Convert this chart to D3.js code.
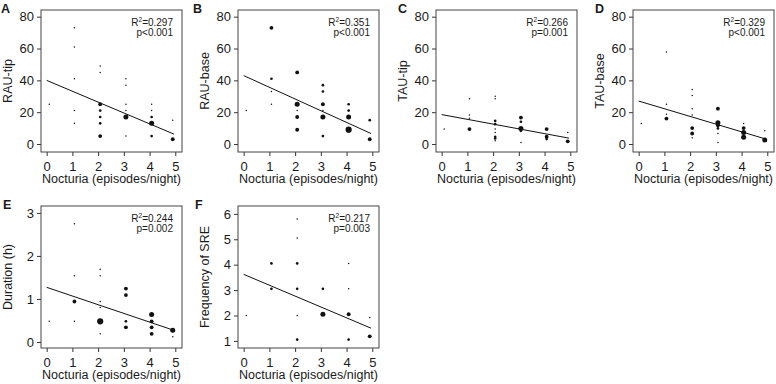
<!DOCTYPE html>
<html>
<head>
<meta charset="utf-8">
<script src="https://cdn.jsdelivr.net/npm/d3@7"></script>
<style>
  body { margin: 0; background: #fff; }
  svg { display: block; }
  text { font-family: "Liberation Sans", Arial, Helvetica, sans-serif; fill: #1a1a1a; }
  .tick line { stroke: #333; }
</style>
</head>
<body>
<script>
// panel labels and texts
var panelLetters = ["A", "B", "C", "D", "E", "F"];
var yTitles = ["RAU-tip", "RAU-base", "TAU-tip", "TAU-base", "Duration (h)", "Frequency of SRE"];
var r2Values = ["0.297", "0.351", "0.266", "0.329", "0.244", "0.217"];
var pValues = ["p<0.001", "p<0.001", "p=0.001", "p<0.001", "p=0.002", "p=0.003"];
var xTitle = "Nocturia (episodes/night)";

// ticks
var xTicks = [0, 1, 2, 3, 4, 5];
var yTicksPct = [0, 20, 40, 60, 80];
var yTicksDuration = [0, 1, 2, 3];
var yTicksFreq = [1, 2, 3, 4, 5, 6];

// points: [nocturia, value, count]
var rauTip = [
  [0.1, 25, 1],
  [1.08, 73, 1], [1.08, 61, 1], [1.08, 41, 1], [1.08, 21, 1], [1.08, 13, 1],
  [2.08, 49, 1], [2.08, 45, 1], [2.08, 25, 3], [2.08, 21, 2], [2.08, 17, 2], [2.08, 13, 2], [2.08, 5, 3],
  [3.08, 41, 1], [3.08, 37, 1], [3.08, 25, 1], [3.08, 21, 1], [3.08, 17, 4], [3.08, 5, 1],
  [4.08, 25, 1], [4.08, 21, 1], [4.08, 17, 2], [4.08, 13, 4], [4.08, 5, 2],
  [4.9, 15, 1], [4.9, 3, 3]
];
var rauBase = [
  [0.1, 21, 1],
  [1.08, 73, 3], [1.08, 41, 2], [1.08, 33, 1], [1.08, 25, 1],
  [2.08, 45, 3], [2.08, 25, 4], [2.08, 21, 1], [2.08, 17, 3], [2.08, 9, 3],
  [3.08, 37, 2], [3.08, 33, 2], [3.08, 25, 3], [3.08, 21, 1], [3.08, 17, 4], [3.08, 5, 2],
  [4.08, 25, 2], [4.08, 21, 2], [4.08, 17, 4], [4.08, 9, 5],
  [4.9, 15, 2], [4.9, 3, 3]
];
var tauTip = [
  [0.1, 9.4, 1],
  [1.08, 28.5, 1], [1.08, 18.3, 1], [1.08, 16.2, 1], [1.08, 9.4, 3],
  [2.08, 30, 1], [2.08, 28.5, 1], [2.08, 14.5, 2], [2.08, 12.5, 2], [2.08, 9.4, 1], [2.08, 7.3, 1],
  [2.08, 4.6, 2], [2.08, 3.5, 2], [2.08, 2, 1],
  [3.08, 16.6, 3], [3.08, 14, 2], [3.08, 9.8, 4], [3.08, 8.3, 2], [3.08, 1, 1],
  [4.08, 9.4, 3], [4.08, 4.6, 3], [4.08, 3.1, 2],
  [4.9, 7.3, 1], [4.9, 1.7, 3]
];
var tauBase = [
  [0.1, 12.9, 1],
  [1.08, 57.8, 1], [1.08, 25, 1], [1.08, 18.7, 1], [1.08, 16, 3],
  [2.08, 34.3, 1], [2.08, 30.5, 1], [2.08, 22.2, 1], [2.08, 18.3, 1], [2.08, 10, 3], [2.08, 6.6, 3], [2.08, 4, 1],
  [3.08, 22.2, 3], [3.08, 13.3, 4], [3.08, 11.8, 3], [3.08, 9.8, 2], [3.08, 6.6, 1], [3.08, 1, 1],
  [4.08, 12.9, 1], [4.08, 10, 3], [4.08, 7.3, 4], [4.08, 4.2, 4],
  [4.9, 8.3, 1], [4.9, 2.5, 4]
];
var duration = [
  [0.1, 0.48, 1],
  [1.08, 2.75, 1], [1.08, 1.54, 1], [1.08, 0.94, 3], [1.08, 0.48, 1],
  [2.08, 1.69, 1], [2.08, 1.54, 1], [2.08, 0.94, 1], [2.08, 0.8, 1], [2.08, 0.48, 5], [2.08, 0.19, 1],
  [3.08, 1.24, 3], [3.08, 1.09, 3], [3.08, 0.48, 2], [3.08, 0.34, 3],
  [4.08, 0.64, 4], [4.08, 0.48, 3], [4.08, 0.34, 3], [4.08, 0.19, 3],
  [4.9, 0.27, 4], [4.9, 0.12, 1]
];
var sreFreq = [
  [0.1, 2.0, 1],
  [1.08, 4.05, 2], [1.08, 3.05, 2],
  [2.08, 5.8, 1], [2.08, 5.05, 1], [2.08, 4.05, 2], [2.08, 3.05, 2], [2.08, 2.0, 1], [2.08, 1.05, 2],
  [3.08, 3.05, 2], [3.08, 2.05, 4],
  [4.08, 4.05, 1], [4.08, 3.05, 1], [4.08, 2.05, 3], [4.08, 1.05, 2],
  [4.9, 1.92, 1], [4.9, 1.18, 3]
];

// regression line values at x = 0 and x = 4.95
var fitX = [0, 4.95];
var fitY = [[40, 6.2], [43, 6.6], [18.5, 3.7], [27, 3.1], [1.27, 0.27], [3.62, 1.5]];

var panelPoints = [rauTip, rauBase, tauTip, tauBase, duration, sreFreq];
var panelYTicks = [yTicksPct, yTicksPct, yTicksPct, yTicksPct, yTicksDuration, yTicksFreq];
var panelYDomain = [[-5, 84.2], [-5, 84.2], [-5, 84.2], [-5, 84.2], [-0.14, 3.16], [0.72, 6.31]];

// layout
var colLeft = [41, 238, 436, 633];
var rowTop = [10, 206];
var boxW = 141, boxH = 142;
var letterX = [1, 193, 398, 595, 3, 195];

var svg = d3.select("body").append("svg")
  .attr("width", 776)
  .attr("height", 384);

var rScale = d3.scaleLinear().domain([1, 5]).range([0.75, 3.1]);

panelPoints.forEach(function(points, i) {
  var left = colLeft[i % 4];
  var top = rowTop[Math.floor(i / 4)];

  var x = d3.scaleLinear().domain([-0.22, 5.26]).range([0, boxW]);
  var y = d3.scaleLinear().domain(panelYDomain[i]).range([boxH, 0]);

  var g = svg.append("g").attr("transform", "translate(" + left + "," + top + ")");

  // axes
  var xAxis = g.append("g")
    .attr("transform", "translate(0," + boxH + ")")
    .call(d3.axisBottom(x).tickValues(xTicks).tickSize(4).tickPadding(4).tickFormat(d3.format("d")));
  var yAxis = g.append("g")
    .call(d3.axisLeft(y).tickValues(panelYTicks[i]).tickSize(4).tickPadding(3).tickFormat(d3.format("d")));
  [xAxis, yAxis].forEach(function(a) {
    a.select(".domain").remove();
    a.selectAll("text").style("font-size", "13px").attr("fill", "#1a1a1a");
  });
  xAxis.selectAll("text").attr("dy", null).attr("y", 18.5);

  // box
  g.append("rect")
    .attr("x", 0).attr("y", 0)
    .attr("width", boxW).attr("height", boxH)
    .attr("fill", "none")
    .attr("stroke", "#444")
    .attr("stroke-width", 1);

  // points
  g.selectAll("circle")
    .data(points)
    .enter()
    .append("circle")
    .attr("cx", d => x(d[0]))
    .attr("cy", d => y(d[1]))
    .attr("r", d => rScale(d[2]))
    .attr("fill", "#111");

  // fit line
  g.append("line")
    .attr("x1", x(fitX[0])).attr("y1", y(fitY[i][0]))
    .attr("x2", x(fitX[1])).attr("y2", y(fitY[i][1]))
    .attr("stroke", "#111")
    .attr("stroke-width", 1);

  // stats
  var st = g.append("text")
    .attr("x", boxW - 9).attr("y", 15.5)
    .attr("text-anchor", "end")
    .style("font-size", "10px");
  st.append("tspan").text("R");
  st.append("tspan").attr("dy", -4).style("font-size", "6.5px").text("2");
  st.append("tspan").attr("dy", 4).text("=" + r2Values[i]);

  g.append("text")
    .attr("x", boxW - 9).attr("y", 26)
    .attr("text-anchor", "end")
    .style("font-size", "10px")
    .text(pValues[i]);

  // axis titles
  g.append("text")
    .attr("x", boxW / 2).attr("y", boxH + 31)
    .attr("text-anchor", "middle")
    .style("font-size", "12.5px")
    .text(xTitle);

  g.append("text")
    .attr("transform", "translate(-29," + (boxH / 2) + ") rotate(-90)")
    .attr("text-anchor", "middle")
    .style("font-size", "12.5px")
    .text(yTitles[i]);

  // panel letter
  svg.append("text")
    .attr("x", letterX[i]).attr("y", top + 3)
    .style("font-size", "12.5px")
    .style("font-weight", "bold")
    .text(panelLetters[i]);
});
</script>
</body>
</html>
